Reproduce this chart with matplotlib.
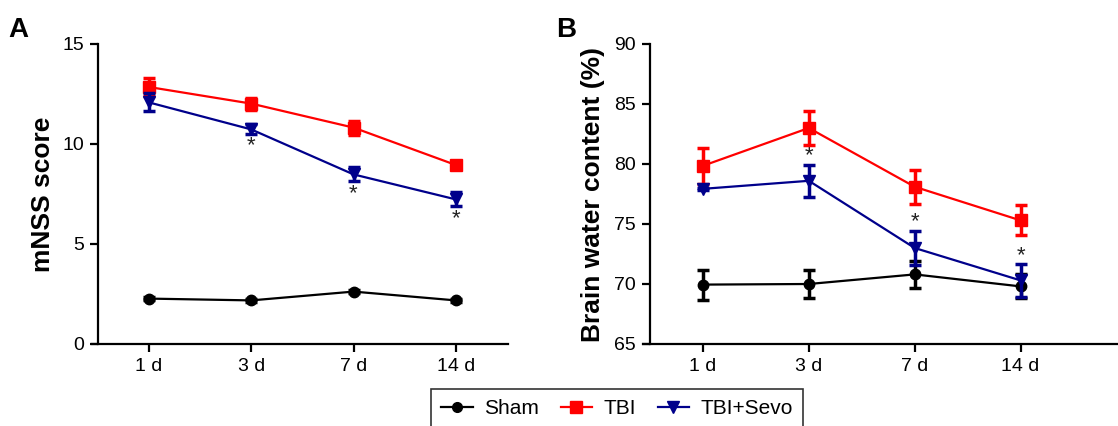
import matplotlib
matplotlib.use("Agg")
import matplotlib.pyplot as plt
from matplotlib.lines import Line2D

plt.rcParams['font.family'] = ['Liberation Sans', 'DejaVu Sans']

days = ["1 d", "3 d", "7 d", "14 d"]
groups = ["Sham", "TBI", "TBI+Sevo"]

# panel A - mNSS score
mnss_sham = [2.27, 2.18, 2.62, 2.18]
mnss_sham_err = [0.08, 0.08, 0.08, 0.08]
mnss_tbi = [12.85, 12.02, 10.82, 8.95]
mnss_tbi_err = [0.45, 0.3, 0.35, 0.12]
mnss_sevo = [12.08, 10.73, 8.48, 7.23]
mnss_sevo_err = [0.45, 0.25, 0.35, 0.35]
mnss_star_y = [None, 9.9, 7.5, 6.27]

# panel B - brain water content
bwc_sham = [69.95, 70.0, 70.8, 69.8]
bwc_sham_err = [1.25, 1.2, 1.1, 1.0]
bwc_tbi = [79.85, 83.0, 78.1, 75.3]
bwc_tbi_err = [1.5, 1.4, 1.4, 1.25]
bwc_sevo = [77.93, 78.6, 73.0, 70.3]
bwc_sevo_err = [0.1, 1.35, 1.45, 1.35]
bwc_star_y = [None, 80.7, 75.2, 72.35]

COLORS = ["black", "#ff0000", "#00008b"]
MARKERS = ["o", "s", "v"]
MSIZE = [7.5, 9, 8.5]

fig = plt.figure(figsize=(11.18, 4.26), dpi=100)
axA = fig.add_axes([92 / 1118, 1 - 344 / 426, 416 / 1118, 300 / 426])
axB = fig.add_axes([643 / 1118, 1 - 344 / 426, 475 / 1118, 300 / 426])


def draw_panel(ax, series, errs, stars, ylim, yticks, ylabel, xlim, spine_off):
    x = list(range(len(days)))
    for i, (vals, err) in enumerate(zip(series, errs)):
        ax.errorbar(x, vals, yerr=err, color=COLORS[i], marker=MARKERS[i],
                    markersize=MSIZE[i], linewidth=1.6, elinewidth=2.5,
                    capsize=4.5, capthick=2.5, zorder=3 + i)
    for xi, sy in zip(x, stars):
        if sy is not None:
            ax.text(xi, sy, "*", ha="center", va="center", fontsize=16, color="#222222")
    ax.set_xlim(*xlim)
    ax.set_ylim(*ylim)
    ax.set_yticks(yticks)
    ax.set_xticks(x)
    ax.set_xticklabels(days)
    ax.spines['top'].set_visible(False)
    ax.spines['right'].set_visible(False)
    ax.spines['left'].set_position(('axes', spine_off))
    for s in ['left', 'bottom']:
        ax.spines[s].set_linewidth(1.6)
    ax.tick_params(width=1.6, length=6, labelsize=14, pad=4)
    ax.set_ylabel(ylabel, fontsize=19, fontweight="bold")


draw_panel(axA, [mnss_sham, mnss_tbi, mnss_sevo],
           [mnss_sham_err, mnss_tbi_err, mnss_sevo_err], mnss_star_y,
           (0, 15), [0, 5, 10, 15], "mNSS score", (-0.556, 3.51), 6 / 416)
draw_panel(axB, [bwc_sham, bwc_tbi, bwc_sevo],
           [bwc_sham_err, bwc_tbi_err, bwc_sevo_err], bwc_star_y,
           (65, 90), [65, 70, 75, 80, 85, 90], "Brain water content (%)",
           (-0.566, 3.92), 7 / 475)
axA.yaxis.set_label_coords(-0.09, 0.5)
axB.yaxis.set_label_coords(-0.08, 0.5)

fig.text(8 / 1118, 1 - 30 / 426, "A", fontsize=20, fontweight="bold", va="center")
fig.text(556 / 1118, 1 - 30 / 426, "B", fontsize=20, fontweight="bold", va="center")

handles = [Line2D([], [], color=COLORS[i], marker=MARKERS[i], markersize=MSIZE[i] - 0.5,
                  linewidth=1.6) for i in range(3)]
leg = fig.legend(handles, groups, loc="upper center", bbox_to_anchor=(0.552, 0.087),
                 ncol=3, fontsize=15, frameon=True, fancybox=False,
                 edgecolor="black", handlelength=1.5, columnspacing=1.05,
                 handletextpad=0.55, borderpad=0.5, borderaxespad=0)
leg.get_frame().set_linewidth(1.2)

fig.savefig("out.png", dpi=100)
